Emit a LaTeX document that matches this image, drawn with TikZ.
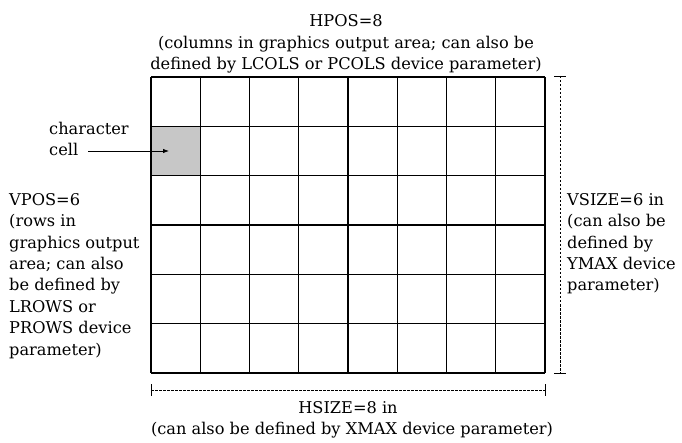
\documentclass[tikz,border=0pt]{standalone}
\usepackage{fontspec}
\setmainfont{DejaVu Serif}
\usetikzlibrary{arrows.meta}
\begin{document}
\begin{tikzpicture}[x=1pt,y=-1pt,
  lbl/.style={inner sep=0pt, font=\fontsize{16.2}{21.4}\selectfont},
  gridline/.style={line width=1.4pt},
  dimline/.style={line width=0.7pt, dash pattern=on 2.5pt off 1.5pt},
  tickline/.style={line width=0.8pt}]
\useasboundingbox (0,0) rectangle (682,443);
% shaded character cell
\fill[black!22] (151,126) rectangle (200.25,175.3);
% grid
\foreach \i in {0,...,8} {\draw[gridline] ({151+\i*49.25},77) -- ({151+\i*49.25},373);}
\foreach \j in {0,...,6} {\draw[gridline] (151,{77+\j*49.33}) -- (545,{77+\j*49.33});}
\coordinate (cellpt) at (169,151);
% top text
\node[lbl, anchor=base] (hpos) at (346,27) {HPOS=8};
\node[lbl, anchor=base] (hpos2) at (346,48.5) {(columns in graphics output area; can also be};
\node[lbl, anchor=base] (hpos3) at (346,70) {defined by LCOLS or PCOLS device parameter)};
% character cell label
\node[lbl, anchor=base west] (chr) at (49,135) {character};
\node[lbl, anchor=base west] (cell) at (49,156) {cell};
\draw[line width=0.8pt, -{Latex[length=6pt,width=4.5pt]}] (88,151) -- (cellpt);
% left text
\node[lbl, anchor=north west, align=left] (vpos) at (9,193)
  {VPOS=6\\(rows in\\graphics output\\area; can also\\be defined by\\LROWS or\\PROWS device\\parameter)};
% right text
\node[lbl, anchor=north west, align=left] (vsize) at (567,193)
  {VSIZE=6 in\\(can also be\\defined by\\YMAX device\\parameter)};
% vertical dimension
\coordinate (vt) at (560,76);
\coordinate (vb) at (560,373);
\draw[dimline] (vt) -- (vb);
\draw[tickline] (554,76) -- (566,76);
\draw[tickline] (554,373) -- (566,373);
% horizontal dimension
\coordinate (hl) at (151,390);
\coordinate (hr) at (545,390);
\draw[dimline] (hl) -- (hr);
\draw[tickline] (151,384) -- (151,396);
\draw[tickline] (545,384) -- (545,396);
% bottom text
\node[lbl, anchor=base] (hsize) at (348,413) {HSIZE=8 in};
\node[lbl, anchor=base] (hsize2) at (352,434) {(can also be defined by XMAX device parameter)};
\end{tikzpicture}
\end{document}
